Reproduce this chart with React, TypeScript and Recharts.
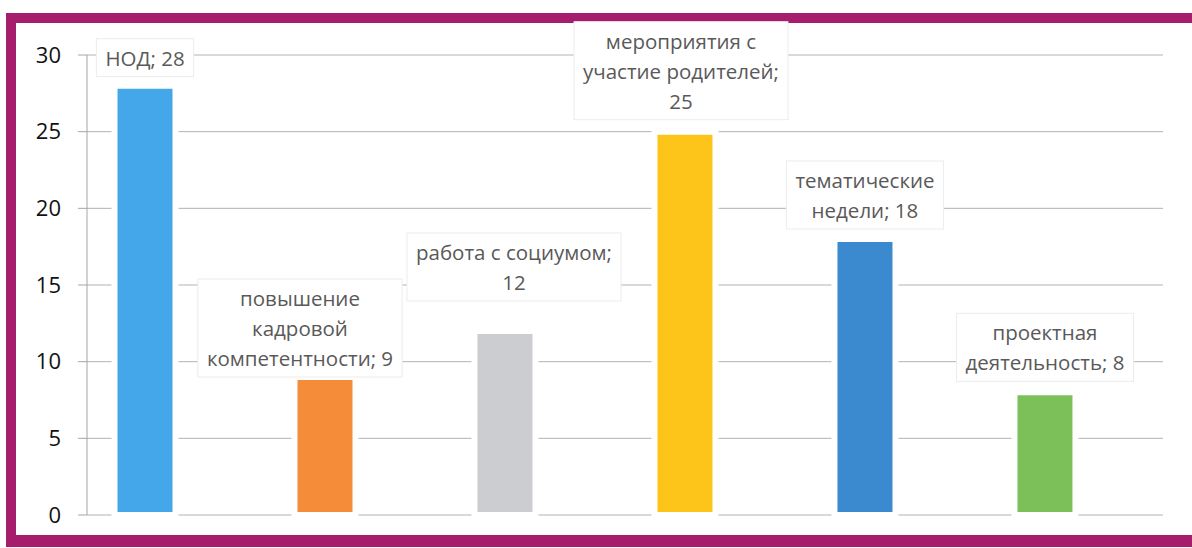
import React from 'react';
import { BarChart, Bar, XAxis, YAxis, CartesianGrid, Cell, LabelList } from 'recharts';

const categoryLines: string[][] = [
  ['НОД'],
  ['повышение', 'кадровой', 'компетентности'],
  ['работа с социумом'],
  ['мероприятия с', 'участие родителей'],
  ['тематические', 'недели'],
  ['проектная', 'деятельность'],
];
const categories = categoryLines.map((l) => l.join(' '));
const values = [28, 9, 12, 25, 18, 8];
const yTicks = [0, 5, 10, 15, 20, 25, 30];
const valueOwnLine = [false, false, true, true, false, false];

const data = categories.map((name, i) => ({ idx: i, name, value: values[i] }));

const colors = ['#43a7ea', '#f58c3a', '#cbcdd0', '#fdc51a', '#3b89cf', '#7cc05a'];
const labelShift = [
  { dx: 0, gap: 28 },
  { dx: -25, gap: 19 },
  { dx: 9, gap: 49 },
  { dx: -4, gap: 31 },
  { dx: 0, gap: 29 },
  { dx: 0, gap: 30 },
];

const LABEL_SIZE = 20.5;
const LABEL_FAMILY = '"Open Sans", sans-serif';
let ctx: CanvasRenderingContext2D | null = null;
function measure(t: string): number {
  if (!ctx) ctx = document.createElement('canvas').getContext('2d');
  if (!ctx) return t.length * 10;
  ctx.font = `${LABEL_SIZE}px ${LABEL_FAMILY}`;
  return ctx.measureText(t).width;
}

function linesFor(i: number): string[] {
  const lines = categoryLines[i].slice();
  const last = lines.length - 1;
  if (valueOwnLine[i]) {
    lines[last] = lines[last] + ';';
    lines.push(String(values[i]));
  } else {
    lines[last] = `${lines[last]}; ${values[i]}`;
  }
  return lines;
}

const renderLabel = (props: any) => {
  const { x, y, width, index } = props;
  const lines = linesFor(index);
  const s = labelShift[index];
  const cx = Number(x) + Number(width) / 2 + s.dx;
  const lh = 30;
  const lastY = Number(y) - s.gap;
  const firstY = lastY - (lines.length - 1) * lh;
  const w = Math.max(...lines.map(measure)) + 18;
  const h = lines.length * lh + 8;
  return (
    <g>
      <rect x={cx - w / 2} y={firstY - lh / 2 - 4} width={w} height={h} fill="#ffffff" stroke="#ececec" strokeWidth={1} />
      {lines.map((l, k) => (
        <text
          key={k}
          x={cx}
          y={firstY + k * lh}
          textAnchor="middle"
          dominantBaseline="central"
          fill="#595959"
          fontSize={LABEL_SIZE}
          fontFamily={LABEL_FAMILY}
        >
          {l}
        </text>
      ))}
    </g>
  );
};

export default function App() {
  return (
    <div style={{ position: 'absolute', left: 0, top: 0, width: 1192, height: 548, background: '#ffffff', overflow: 'hidden' }}>
      <div
        style={{
          position: 'absolute',
          left: 6,
          top: 13,
          width: 1240,
          height: 534,
          boxSizing: 'border-box',
          borderLeft: '10px solid #a51d6c',
          borderTop: '10px solid #a51d6c',
          borderBottom: '12px solid #a51d6c',
        }}
      />
      <div style={{ position: 'absolute', left: 0, top: 0 }}>
        <BarChart width={1192} height={548} data={data} margin={{ top: 55, right: 29, bottom: 33, left: 27 }}>
          <CartesianGrid horizontal vertical={false} stroke="#b3b3b3" />
          <XAxis dataKey="idx" type="number" domain={[-0.325, 5.653]} allowDataOverflow hide />
          <YAxis
            type="number"
            domain={[0, 30]}
            ticks={yTicks}
            interval={0}
            width={60}
            axisLine={{ stroke: '#a6a6a6' }}
            tickLine={{ stroke: '#a6a6a6' }}
            tickSize={9}
            tickMargin={17}
            tick={{ fill: '#111111', fontSize: 22, fontFamily: '"Open Sans", sans-serif' }}
          />
          <Bar dataKey="value" barSize={61} stroke="#ffffff" strokeWidth={6} isAnimationActive={false}>
            {data.map((d, i) => (
              <Cell key={d.name} fill={colors[i]} />
            ))}
            <LabelList dataKey="value" content={renderLabel} />
          </Bar>
        </BarChart>
      </div>
    </div>
  );
}
